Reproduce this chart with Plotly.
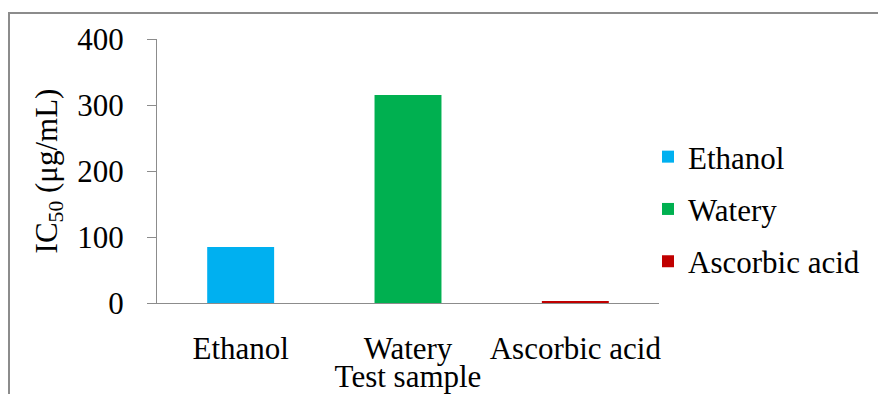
import plotly.graph_objects as go

categories = ["Ethanol", "Watery", "Ascorbic acid"]
values = [85, 315, 3]
colors = ["#00B0F0", "#00B050", "#C00000"]
y_ticks = [0, 100, 200, 300, 400]

FONT = "Times New Roman, Liberation Serif, serif"
FS = 31

fig = go.Figure()
for i, (c, v, col) in enumerate(zip(categories, values, colors)):
    fig.add_trace(go.Bar(x=[c], y=[v], name=c, marker=dict(color=col, line=dict(width=0)),
                         legendgroup=f"g{i}"))

W, H = 878, 394
l, r, t, b = 157, 219, 39, 91
pw, ph = W - l - r, H - t - b

def px(xp):
    return (xp - l) / pw

def py(yp):
    return (H - b - yp) / ph

fig.update_layout(
    width=W, height=H,
    margin=dict(l=l, r=r, t=t, b=b, autoexpand=False),
    paper_bgcolor="white", plot_bgcolor="white",
    barmode="relative", bargap=0.6,
    font=dict(family=FONT, size=FS, color="black"),
    showlegend=True,
    legend=dict(x=px(648), xanchor="left", y=py(130), yanchor="top",
                font=dict(family=FONT, size=FS, color="black"),
                tracegroupgap=9, itemwidth=30, bgcolor="rgba(0,0,0,0)"),
    xaxis=dict(categoryorder="array", categoryarray=categories,
               showline=True, linecolor="#8c8c8c", linewidth=1,
               ticks="", showgrid=False, zeroline=False, ticklabelstandoff=18,
               tickfont=dict(family=FONT, size=FS, color="black"),
               title=dict(text="Test sample", standoff=0,
                          font=dict(family=FONT, size=FS, color="black"))),
    yaxis=dict(range=[0, 400], tickvals=y_ticks, showline=True, linecolor="#8c8c8c",
               linewidth=1, ticks="outside", ticklen=9, tickcolor="#8c8c8c",
               showgrid=False, zeroline=False, ticklabelstandoff=17,
               tickfont=dict(family=FONT, size=FS, color="black"),
               title=dict(text="IC<sub>50</sub> (μg/mL)", standoff=10,
                          font=dict(family=FONT, size=FS, color="black"))),
    shapes=[dict(type="rect", xref="paper", yref="paper",
                 x0=px(9), x1=px(890), y0=py(420), y1=py(13),
                 line=dict(color="#8c8c8c", width=2), fillcolor="rgba(0,0,0,0)", layer="below")],
)

fig.write_html("out.html", config={"displayModeBar": False},
               post_script="document.body.style.margin='0px';document.body.style.overflow='hidden';")
